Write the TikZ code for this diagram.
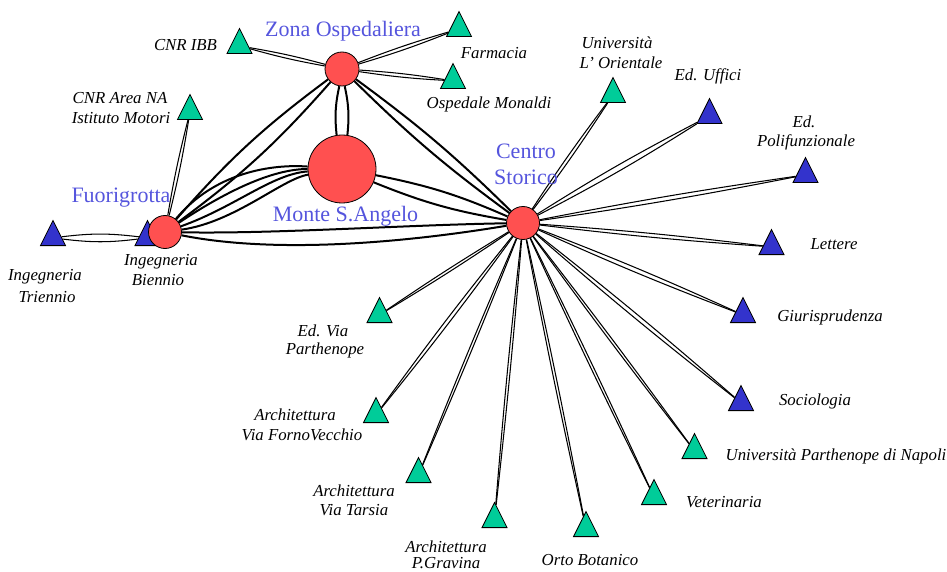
\documentclass[tikz,border=0pt]{standalone}
\usepackage{fontspec}
\setmainfont{Liberation Serif}
\usetikzlibrary{shapes.geometric,backgrounds}

\definecolor{hubred}{RGB}{255,80,80}
\definecolor{sitegreen}{RGB}{0,204,153}
\definecolor{siteblue}{RGB}{51,51,204}
\definecolor{hubtext}{RGB}{85,85,221}

\tikzset{
  hub/.style={circle, draw=black, line width=0.8pt, fill=hubred, inner sep=0pt},
  site/.style={isosceles triangle, isosceles triangle stretches, shape border rotate=90,
    minimum width=25pt, minimum height=25pt, inner sep=0pt, draw=black, line width=0.8pt,
    anchor=lower side},
  gsite/.style={site, fill=sitegreen},
  bsite/.style={site, fill=siteblue},
  hubname/.style={text=hubtext, font=\fontsize{22}{24}\selectfont, anchor=base, inner sep=0pt},
  sitename/.style={font=\fontsize{16.8}{18}\selectfont\itshape, anchor=base, inner sep=0pt},
  link/.style={draw=black, line width=1.05pt},
  trunk/.style={draw=black, line width=2pt},
}

\begin{document}
\begin{tikzpicture}[x=1pt, y=-1pt]
\useasboundingbox (0,0) rectangle (947,572);

% ---- sites
\path
  (239.5,54) node[gsite] (ibb) {}
  (459,37)   node[gsite] (farm) {}
  (453,89)   node[gsite] (monaldi) {}
  (190,120)  node[gsite] (cnrna) {}
  (53,246)   node[bsite] (ingtri) {}
  (147.5,246) node[bsite] (ingbie) {}
  (613,103)  node[gsite] (orient) {}
  (709.5,124) node[bsite] (uffici) {}
  (805.5,183) node[bsite] (polif) {}
  (771.5,255) node[bsite] (lettere) {}
  (743,323)  node[bsite] (giuris) {}
  (741,411)  node[bsite] (socio) {}
  (694.5,459) node[gsite] (uniparth) {}
  (654,505)  node[gsite] (veter) {}
  (586,537)  node[gsite] (orto) {}
  (494.5,528) node[gsite] (gravina) {}
  (418.5,483) node[gsite] (tarsia) {}
  (376,423)  node[gsite] (forno) {}
  (379.5,323) node[gsite] (viaparth) {};

% ---- hubs
\path
  (342,69)  node[hub, minimum size=34pt] (zona) {}
  (342,169) node[hub, minimum size=68pt] (monte) {}
  (165,232) node[hub, minimum size=33pt] (fuori) {}
  (523,223) node[hub, minimum size=33pt] (centro) {};

\begin{pgfonlayer}{background}
% ---- links between hubs
\path (zona) edge[trunk, bend left=6] (fuori) edge[trunk, bend right=6] (fuori);
\path (zona) edge[trunk, bend left=9] (monte) edge[trunk, bend right=9] (monte);
\path (zona) edge[trunk, bend left=4.1] (centro) edge[trunk, bend right=4.1] (centro);
\path (monte) edge[trunk, bend left=6.2] (centro) edge[trunk, bend right=6.2] (centro);
\draw[trunk] (fuori) .. controls +(110,2) and +(-120,2) .. (centro);
\draw[trunk] (fuori) .. controls +(110,22) and +(-120,20) .. (centro);
\draw[trunk] (fuori) .. controls +(50,-60) and +(-70,-5) .. (monte);
\draw[trunk] (fuori) .. controls +(60,-40) and +(-70,0) .. (monte);
\draw[trunk] (fuori) .. controls +(70,-25) and +(-70,5) .. (monte);
\draw[trunk] (fuori) .. controls +(70,-10) and +(-60,10) .. (monte);

% ---- links to sites
\path (zona) edge[link, bend left=2.7] (ibb) edge[link, bend right=2.7] (ibb)
             edge[link, bend left=2.4] (farm) edge[link, bend right=2.4] (farm)
             edge[link, bend left=2.6] (monaldi) edge[link, bend right=2.6] (monaldi);
\path (fuori) edge[link, bend left=2.3] (cnrna) edge[link, bend right=2.3] (cnrna);
\path (ingtri) edge[link, bend left=7] (ingbie) edge[link, bend right=7] (ingbie);
\path (centro)
  edge[link, bend left=1.85] (orient)   edge[link, bend right=1.85] (orient)
  edge[link, bend left=2.3]  (uffici)   edge[link, bend right=2.3]  (uffici)
  edge[link, bend left=1.36] (polif)    edge[link, bend right=1.36] (polif)
  edge[link, bend left=1.37] (lettere)  edge[link, bend right=1.37] (lettere)
  edge[link, bend left=1.64] (giuris)   edge[link, bend right=1.64] (giuris)
  edge[link, bend left=1.38] (socio)    edge[link, bend right=1.38] (socio)
  edge[link, bend left=0.86] (uniparth) edge[link, bend right=0.86] (uniparth)
  edge[link, bend left=0.8]  (veter)    edge[link, bend right=0.8]  (veter)
  edge[link, bend left=0.78] (orto)     edge[link, bend right=0.78] (orto)
  edge[link, bend left=0.82] (gravina)  edge[link, bend right=0.82] (gravina)
  edge[link, bend left=0.9]  (tarsia)   edge[link, bend right=0.9]  (tarsia)
  edge[link, bend left=1.4]  (forno)    edge[link, bend right=1.4]  (forno)
  edge[link, bend left=1.43] (viaparth) edge[link, bend right=1.43] (viaparth);
\end{pgfonlayer}

% ---- hub names
\node[hubname] (tzona)   at (343,37)    {Zona Ospedaliera};
\node[hubname] (tfuori)  at (121,203)   {Fuorigrotta};
\node[hubname] (tmonte)  at (345.5,222) {Monte S.Angelo};
\node[hubname] (tcentro) at (526,159)   {Centro};
\node[hubname] (tstor)   at (526,185)   {Storico};

% ---- site names
\node[sitename] (l1)  at (185.5,51) {CNR IBB};
\node[sitename] (l2)  at (494,59)   {Farmacia};
\node[sitename] (l3)  at (489,109)  {Ospedale Monaldi};
\node[sitename] (l4a) at (120,104)  {CNR Area NA};
\node[sitename] (l4b) at (121,124)  {Istituto Motori};
\node[sitename] (l5a) at (45,280)   {Ingegneria};
\node[sitename] (l5b) at (47,302)   {Triennio};
\node[sitename] (l6a) at (161,265)  {Ingegneria};
\node[sitename] (l6b) at (158,285)  {Biennio};
\node[sitename] (l7a) at (617,49)   {Università};
\node[sitename] (l7b) at (621,69)   {L' Orientale};
\node[sitename] (l8)  at (708,81)   {Ed. Uffici};
\node[sitename] (l9a) at (804,128)  {Ed.};
\node[sitename] (l9b) at (806,147)  {Polifunzionale};
\node[sitename] (l10) at (834,249)  {Lettere};
\node[sitename] (l11) at (830,321)  {Giurisprudenza};
\node[sitename] (l12) at (815,405)  {Sociologia};
\node[sitename] (l13) at (836,460)  {Università Parthenope di Napoli};
\node[sitename] (l14) at (724,507)  {Veterinaria};
\node[sitename] (l15a) at (323,336) {Ed. Via};
\node[sitename] (l15b) at (325,354) {Parthenope};
\node[sitename] (l16a) at (295,420) {Architettura};
\node[sitename] (l16b) at (302,440) {Via FornoVecchio};
\node[sitename] (l17a) at (354,496) {Architettura};
\node[sitename] (l17b) at (354,515) {Via Tarsia};
\node[sitename] (l18a) at (446,552) {Architettura};
\node[sitename] (l18b) at (446,568) {P.Gravina};
\node[sitename] (l19) at (590,565)  {Orto Botanico};
\end{tikzpicture}
\end{document}
